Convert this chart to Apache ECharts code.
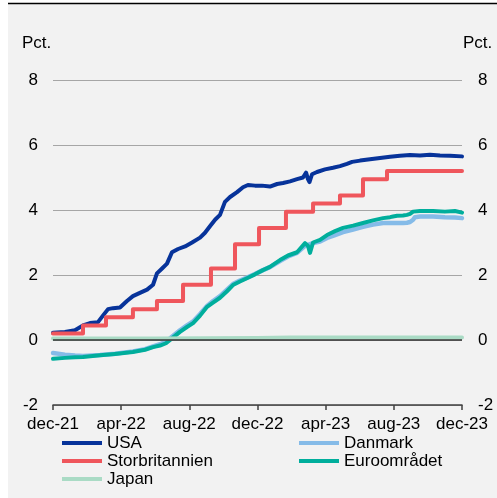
<!DOCTYPE html>
<html lang="da" style="height: 100%">

<head>
  <meta charset="utf-8">
</head>

<body style="height: 100%; margin: 0; background: #fff">
  <div id="container" style="width: 497px; height: 498px"></div>

  <script type="text/javascript" src="https://cdn.jsdelivr.net/npm/echarts@6/dist/echarts.min.js"></script>

  <script type="text/javascript">
    // x values are months counted from dec-21
    var tickLabels = ['dec-21', 'apr-22', 'aug-22', 'dec-22', 'apr-23', 'aug-23', 'dec-23'];

    var usaMonths = [0, 0.70, 1.29, 1.76, 2.17, 2.64, 2.93, 3.23, 3.52, 3.93, 4.34, 4.69, 5.10, 5.52, 5.87,
      6.10, 6.40, 6.69, 6.98, 7.34, 7.75, 8.16, 8.63, 8.92, 9.21, 9.51, 9.80, 10.09, 10.39, 10.80, 11.15,
      11.44, 11.85, 12.26, 12.73, 13.15, 13.50, 13.91, 14.32, 14.67, 14.85, 14.96, 15.05, 15.20, 15.49,
      15.96, 16.43, 16.84, 17.25, 17.55, 18.02, 18.60, 19.19, 19.78, 20.36, 20.95, 21.54, 22.12, 22.71,
      23.30, 24.00];
    var usaValues = [0.22, 0.25, 0.30, 0.45, 0.52, 0.55, 0.75, 0.95, 0.98, 1.00, 1.20, 1.35, 1.45, 1.55, 1.70,
      2.05, 2.20, 2.35, 2.70, 2.80, 2.88, 3.00, 3.15, 3.30, 3.50, 3.70, 3.85, 4.25, 4.40, 4.55, 4.70,
      4.77, 4.75, 4.75, 4.72, 4.80, 4.83, 4.88, 4.95, 5.00, 5.15, 4.95, 4.86, 5.10, 5.17,
      5.25, 5.30, 5.35, 5.42, 5.48, 5.52, 5.56, 5.60, 5.64, 5.67, 5.69, 5.68, 5.70, 5.68,
      5.67, 5.65];

    var ukMonths = [0, 1.76, 3.11, 4.69, 6.10, 7.63, 9.27, 10.68, 12.09, 13.67, 15.26, 16.84, 18.19, 19.60, 24.00];
    var ukValues = [0.20, 0.45, 0.70, 0.95, 1.20, 1.70, 2.20, 2.95, 3.45, 3.95, 4.20, 4.45, 4.95, 5.20, 5.20];

    var ezMonths = [0, 0.70, 1.29, 1.76, 2.76, 3.64, 4.69, 5.40, 5.87, 6.28, 6.63, 6.98, 7.45, 7.86, 8.22,
      8.63, 9.04, 9.39, 9.80, 10.21, 10.56, 10.97, 11.38, 11.85, 12.32, 12.73, 13.32, 13.79, 14.32, 14.79,
      14.96, 15.08, 15.26, 15.67, 16.08, 16.55, 17.02, 17.61, 18.19, 18.78, 19.37, 19.78, 19.95, 20.19,
      20.54, 20.77, 20.95, 21.13, 21.24, 21.54, 22.30, 23.00, 23.59, 24.00];
    var dkValues = [-0.40, -0.45, -0.48, -0.49, -0.46, -0.42, -0.35, -0.28, -0.20, -0.13, -0.05, 0.10, 0.30, 0.45, 0.57,
      0.80, 1.05, 1.20, 1.35, 1.55, 1.72, 1.83, 1.92, 2.03, 2.15, 2.24, 2.43, 2.57, 2.68, 2.90,
      2.93, 2.95, 2.98, 3.03, 3.14, 3.23, 3.32, 3.40, 3.48, 3.55, 3.60, 3.60, 3.60, 3.60,
      3.60, 3.61, 3.63, 3.70, 3.78, 3.80, 3.80, 3.78, 3.77, 3.75];
    var ezValues = [-0.58, -0.55, -0.53, -0.52, -0.47, -0.43, -0.37, -0.30, -0.22, -0.17, -0.10, 0.05, 0.25, 0.40, 0.52,
      0.75, 1.02, 1.15, 1.30, 1.50, 1.69, 1.80, 1.90, 2.02, 2.15, 2.25, 2.46, 2.60, 2.70, 2.98,
      2.90, 2.68, 3.00, 3.08, 3.23, 3.35, 3.45, 3.52, 3.60, 3.68, 3.75, 3.78, 3.80, 3.82,
      3.83, 3.85, 3.88, 3.95, 3.97, 3.97, 3.97, 3.95, 3.97, 3.92];

    var jpMonths = [0, 6, 12, 14, 24];
    var jpValues = [0.05, 0.05, 0.06, 0.08, 0.08];

    function pairs(xs, ys) {
      return xs.map(function (x, i) { return [x, ys[i]]; });
    }

    var font = 'Liberation Sans, Arial, sans-serif';
    var dom = document.getElementById('container');
    var myChart = echarts.init(dom, null, { renderer: 'canvas' });

    function lineSeries(name, data, color, width, extra) {
      var s = {
        name: name,
        type: 'line',
        data: data,
        showSymbol: false,
        symbol: 'none',
        animation: false,
        lineStyle: { color: color, width: width, cap: 'round', join: 'round' },
        itemStyle: { color: color }
      };
      return Object.assign(s, extra || {});
    }

    var legendBase = {
      orient: 'vertical',
      top: 434,
      padding: 0,
      itemGap: 0,
      itemWidth: 40,
      itemHeight: 4,
      icon: 'rect',
      textStyle: { fontFamily: font, fontSize: 17, lineHeight: 18, color: '#000' }
    };

    var option = {
      backgroundColor: '#fff',
      animation: false,
      graphic: [
        { type: 'rect', z: -10, silent: true, shape: { x: 8, y: 4, width: 489, height: 494 }, style: { fill: '#f2f2f2' } },
        { type: 'line', z: -9, silent: true, shape: { x1: 8, y1: 3.5, x2: 497, y2: 3.5 }, style: { stroke: '#000', lineWidth: 1.5 } },
        { type: 'text', x: 22, y: 43, style: { text: 'Pct.', font: '17px ' + font, fill: '#000', verticalAlign: 'middle' } },
        { type: 'text', x: 463, y: 43, style: { text: 'Pct.', font: '17px ' + font, fill: '#000', verticalAlign: 'middle' } }
      ],
      grid: { left: 53, right: 35, top: 80, bottom: 93 },
      legend: [
        Object.assign({ left: 62, data: ['USA', 'Storbritannien', 'Japan'] }, legendBase),
        Object.assign({ left: 299, data: ['Danmark', 'Euroområdet'] }, legendBase)
      ],
      xAxis: {
        type: 'value',
        min: 0,
        max: 24,
        interval: 4,
        axisLine: { show: true, onZero: false, lineStyle: { color: '#404040', width: 1.5 } },
        axisTick: { show: true, length: 5, lineStyle: { color: '#404040', width: 1.5 } },
        splitLine: { show: false },
        axisLabel: {
          margin: 11,
          fontFamily: font,
          fontSize: 17,
          color: '#000',
          formatter: function (v) { return tickLabels[Math.round(v / 4)]; }
        }
      },
      yAxis: [
        {
          type: 'value',
          position: 'left',
          min: -2,
          max: 8,
          interval: 2,
          axisLine: { show: false },
          axisTick: { show: false },
          splitLine: { show: true, lineStyle: { color: '#a6a6a6', width: 1 } },
          axisLabel: { margin: 15, fontFamily: font, fontSize: 17, color: '#000' }
        },
        {
          type: 'value',
          position: 'right',
          min: -2,
          max: 8,
          interval: 2,
          axisLine: { show: false },
          axisTick: { show: false },
          splitLine: { show: false },
          axisLabel: { margin: 16, fontFamily: font, fontSize: 17, color: '#000' }
        }
      ],
      series: [
        lineSeries('USA', pairs(usaMonths, usaValues), '#07339a', 4, {
          markLine: {
            silent: true,
            symbol: 'none',
            animation: false,
            label: { show: false },
            lineStyle: { color: '#333', width: 1.5, type: 'solid' },
            data: [{ yAxis: 0 }]
          }
        }),
        lineSeries('Danmark', pairs(ezMonths, dkValues), '#85bbe8', 4.5),
        lineSeries('Storbritannien', pairs(ukMonths, ukValues), '#ef565c', 4, { step: 'end' }),
        lineSeries('Euroområdet', pairs(ezMonths, ezValues), '#00ae9c', 4),
        lineSeries('Japan', pairs(jpMonths, jpValues), '#aadbc5', 4)
      ]
    };

    myChart.setOption(option);
    window.addEventListener('resize', myChart.resize);
  </script>
</body>

</html>
